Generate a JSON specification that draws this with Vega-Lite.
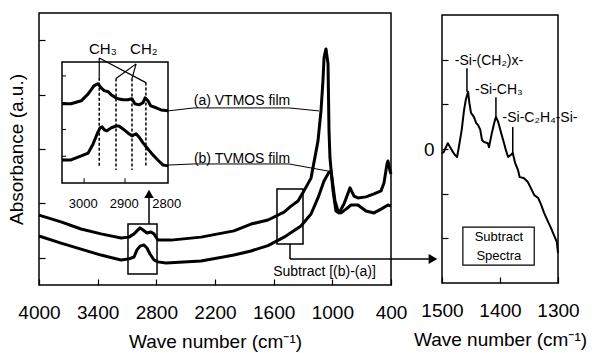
{
  "$schema": "https://vega.github.io/schema/vega-lite/v6.json",
  "padding": {"left": 6, "top": 12, "right": 0, "bottom": 0},
  "config": {
    "font": "Liberation Sans",
    "view": {"stroke": "black", "strokeWidth": 1.5},
    "axis": {"domain": false, "grid": false, "tickColor": "black", "tickSize": -6, "tickWidth": 1.2, "labelFontSize": 19, "titleFontSize": 19, "labelColor": "black", "titleColor": "black", "titleFontWeight": "normal", "labelFlush": false, "labelOverlap": false},
    "text": {"font": "Liberation Sans", "color": "black"}
  },
  "datasets": {
    "main": [
      {"s":"a","w":4000,"v":2.57},{"s":"a","w":3775,"v":2.32},{"s":"a","w":3570,"v":2.06},{"s":"a","w":3366,"v":1.88},{"s":"a","w":3161,"v":1.73},{"s":"a","w":3080,"v":1.76},{"s":"a","w":3028,"v":1.88},{"s":"a","w":2998,"v":1.99},{"s":"a","w":2967,"v":2.10},{"s":"a","w":2936,"v":2.02},{"s":"a","w":2896,"v":1.91},{"s":"a","w":2855,"v":1.95},{"s":"a","w":2824,"v":1.88},{"s":"a","w":2783,"v":1.65},{"s":"a","w":2650,"v":1.65},{"s":"a","w":2343,"v":1.76},{"s":"a","w":2006,"v":1.99},{"s":"a","w":1832,"v":2.24},{"s":"a","w":1658,"v":2.39},{"s":"a","w":1494,"v":2.68},{"s":"a","w":1423,"v":2.90},{"s":"a","w":1351,"v":3.09},{"s":"a","w":1290,"v":3.46},{"s":"a","w":1218,"v":3.93},{"s":"a","w":1147,"v":5.29},{"s":"a","w":1116,"v":6.40},{"s":"a","w":1096,"v":7.50},{"s":"a","w":1085,"v":8.35},{"s":"a","w":1065,"v":8.68},{"s":"a","w":1044,"v":8.13},{"s":"a","w":1039,"v":6.88},{"s":"a","w":1034,"v":5.66},{"s":"a","w":1024,"v":4.67},{"s":"a","w":993,"v":3.46},{"s":"a","w":963,"v":2.72},{"s":"a","w":932,"v":2.65},{"s":"a","w":881,"v":2.98},{"s":"a","w":819,"v":3.57},{"s":"a","w":778,"v":3.27},{"s":"a","w":738,"v":3.20},{"s":"a","w":656,"v":3.24},{"s":"a","w":574,"v":3.35},{"s":"a","w":502,"v":3.46},{"s":"a","w":472,"v":3.75},{"s":"a","w":441,"v":4.45},{"s":"a","w":431,"v":4.56},{"s":"a","w":410,"v":4.19},{"s":"a","w":400,"v":4.08},
      {"s":"b","w":4000,"v":1.80},{"s":"b","w":3775,"v":1.54},{"s":"b","w":3570,"v":1.32},{"s":"b","w":3366,"v":1.10},{"s":"b","w":3161,"v":0.92},{"s":"b","w":3080,"v":0.96},{"s":"b","w":3028,"v":1.03},{"s":"b","w":2998,"v":1.29},{"s":"b","w":2967,"v":1.43},{"s":"b","w":2926,"v":1.47},{"s":"b","w":2896,"v":1.36},{"s":"b","w":2865,"v":1.14},{"s":"b","w":2824,"v":0.92},{"s":"b","w":2783,"v":0.85},{"s":"b","w":2701,"v":0.81},{"s":"b","w":2343,"v":0.88},{"s":"b","w":2006,"v":1.10},{"s":"b","w":1832,"v":1.25},{"s":"b","w":1658,"v":1.45},{"s":"b","w":1494,"v":1.76},{"s":"b","w":1321,"v":2.17},{"s":"b","w":1218,"v":2.61},{"s":"b","w":1147,"v":3.20},{"s":"b","w":1085,"v":3.82},{"s":"b","w":1034,"v":4.15},{"s":"b","w":1014,"v":4.19},{"s":"b","w":993,"v":3.64},{"s":"b","w":973,"v":3.09},{"s":"b","w":942,"v":2.72},{"s":"b","w":911,"v":2.65},{"s":"b","w":860,"v":2.79},{"s":"b","w":809,"v":2.94},{"s":"b","w":738,"v":2.94},{"s":"b","w":656,"v":2.72},{"s":"b","w":574,"v":2.65},{"s":"b","w":502,"v":2.79},{"s":"b","w":431,"v":2.94},{"s":"b","w":400,"v":2.90}
    ],
    "mainLines": [
      {"x1":2681,"y1":6.40,"x2":2415,"y2":6.51},{"x1":2415,"y1":6.51,"x2":1443,"y2":6.51},{"x1":1443,"y1":6.51,"x2":1136,"y2":6.40},
      {"x1":2681,"y1":4.41,"x2":2415,"y2":4.45},{"x1":2415,"y1":4.45,"x2":1443,"y2":4.45},{"x1":1443,"y1":4.45,"x2":1044,"y2":4.19}
    ],
    "mainArrows": [
      {"x1":2875,"y1":2.24,"x2":2875,"y2":3.30},{"x1":1433,"y1":1.51,"x2":1433,"y2":0.96},{"x1":1433,"y1":0.96,"x2":-20,"y2":0.96}
    ],
    "mainBoxes": [
      {"x1":3090,"x2":2793,"y1":0.40,"y2":2.24},{"x1":1566,"x2":1300,"y1":1.51,"y2":3.53}
    ],
    "headUp": [{"w":2875,"v":3.35}],
    "headRight": [{"w":-29,"v":0.96}],
    "mainText": [
      {"w":1924,"v":6.76,"t":"(a) VTMOS film"},{"w":1924,"v":4.65,"t":"(b) TVMOS film"},{"w":1080,"v":0.48,"t":"Subtract [(b)-(a)]"}
    ],
    "inset": [
      {"s":"a","w":3054,"v":2.96},{"s":"a","w":3032,"v":2.96},{"s":"a","w":3007,"v":3.07},{"s":"a","w":2990,"v":3.33},{"s":"a","w":2976,"v":3.63},{"s":"a","w":2966,"v":3.71},{"s":"a","w":2959,"v":3.56},{"s":"a","w":2951,"v":3.45},{"s":"a","w":2941,"v":3.41},{"s":"a","w":2934,"v":3.30},{"s":"a","w":2922,"v":3.18},{"s":"a","w":2917,"v":3.15},{"s":"a","w":2905,"v":3.11},{"s":"a","w":2893,"v":3.11},{"s":"a","w":2883,"v":3.15},{"s":"a","w":2876,"v":2.96},{"s":"a","w":2866,"v":2.92},{"s":"a","w":2856,"v":3.00},{"s":"a","w":2851,"v":3.18},{"s":"a","w":2844,"v":3.07},{"s":"a","w":2837,"v":2.88},{"s":"a","w":2824,"v":2.81},{"s":"a","w":2812,"v":2.73},{"s":"a","w":2795,"v":2.70},
      {"s":"b","w":3054,"v":0.86},{"s":"b","w":3032,"v":0.86},{"s":"b","w":3007,"v":1.01},{"s":"b","w":2990,"v":1.12},{"s":"b","w":2978,"v":1.46},{"s":"b","w":2968,"v":1.84},{"s":"b","w":2961,"v":2.06},{"s":"b","w":2956,"v":2.10},{"s":"b","w":2951,"v":1.99},{"s":"b","w":2944,"v":1.95},{"s":"b","w":2934,"v":2.06},{"s":"b","w":2922,"v":2.13},{"s":"b","w":2915,"v":2.13},{"s":"b","w":2905,"v":2.02},{"s":"b","w":2893,"v":1.87},{"s":"b","w":2883,"v":1.76},{"s":"b","w":2873,"v":1.84},{"s":"b","w":2866,"v":1.72},{"s":"b","w":2856,"v":1.50},{"s":"b","w":2844,"v":1.27},{"s":"b","w":2832,"v":1.05},{"s":"b","w":2820,"v":0.86},{"s":"b","w":2807,"v":0.67},{"s":"b","w":2795,"v":0.64}
    ],
    "insetFrame": [{"x1":3054,"x2":2795,"y1":0,"y2":4.52}],
    "insetTicks": [
      {"x1":3054,"x2":3044,"y1":1,"y2":1},{"x1":3054,"x2":3044,"y1":2,"y2":2},{"x1":3054,"x2":3044,"y1":3,"y2":3},{"x1":3054,"x2":3044,"y1":4,"y2":4},
      {"x1":3000,"x2":3000,"y1":0,"y2":0.18},{"x1":2900,"x2":2900,"y1":0,"y2":0.18}
    ],
    "insetSolid": [
      {"x1":2963,"y1":3.93,"x2":2963,"y2":4.67},{"x1":2963,"y1":4.67,"x2":2849,"y2":3.75},{"x1":2873,"y1":4.45,"x2":2922,"y2":3.90},{"x1":2873,"y1":4.45,"x2":2883,"y2":3.90}
    ],
    "insetDashed": [
      {"x1":2963,"y1":3.93,"x2":2963,"y2":0.64},{"x1":2922,"y1":3.90,"x2":2922,"y2":0.49},{"x1":2883,"y1":3.90,"x2":2883,"y2":0.49},{"x1":2849,"y1":3.75,"x2":2849,"y2":0.64}
    ],
    "insetTickText": [
      {"w":3002,"v":-0.79,"t":"3000"},{"w":2902,"v":-0.79,"t":"2900"},{"w":2798,"v":-0.79,"t":"2800"}
    ],
    "insetLabels": [
      {"w":2954,"v":5.01,"t":"CH₃"},{"w":2854,"v":5.01,"t":"CH₂"}
    ],
    "sub": [
      {"w":1500,"v":-0.09},{"w":1497,"v":-0.07},{"w":1490,"v":0.13},{"w":1486,"v":0.04},{"w":1481,"v":-0.07},{"w":1478,"v":-0.13},{"w":1474,"v":-0.18},{"w":1471,"v":0.04},{"w":1466,"v":0.43},{"w":1462,"v":0.87},{"w":1459,"v":1.10},{"w":1455,"v":1.28},{"w":1453,"v":1.05},{"w":1450,"v":0.81},{"w":1445,"v":0.72},{"w":1441,"v":0.58},{"w":1438,"v":0.54},{"w":1434,"v":0.43},{"w":1431,"v":0.20},{"w":1428,"v":0.16},{"w":1421,"v":0.13},{"w":1419,"v":0.04},{"w":1414,"v":0.36},{"w":1410,"v":0.58},{"w":1407,"v":0.72},{"w":1403,"v":0.60},{"w":1398,"v":0.36},{"w":1393,"v":0.13},{"w":1390,"v":-0.02},{"w":1386,"v":-0.18},{"w":1381,"v":-0.13},{"w":1378,"v":-0.09},{"w":1374,"v":-0.31},{"w":1369,"v":-0.47},{"w":1366,"v":-0.63},{"w":1359,"v":-0.65},{"w":1352,"v":-0.74},{"w":1347,"v":-0.87},{"w":1341,"v":-1.03},{"w":1334,"v":-1.10},{"w":1329,"v":-1.25},{"w":1324,"v":-1.43},{"w":1317,"v":-1.63},{"w":1312,"v":-1.77},{"w":1307,"v":-1.93},{"w":1302,"v":-2.08},{"w":1300,"v":-2.33}
    ],
    "subLines": [
      {"x1":1457,"y1":1.81,"x2":1457,"y2":1.28},{"x1":1407,"y1":1.16,"x2":1407,"y2":0.72},{"x1":1378,"y1":0.49,"x2":1378,"y2":-0.09}
    ],
    "subText": [
      {"w":1419,"v":1.96,"t":"-Si-(CH₂)x-"},{"w":1402,"v":1.32,"t":"-Si-CH₃"},{"w":1331,"v":0.69,"t":"-Si-C₂H₄-Si-"}
    ],
    "subBox": [{"x1":1464,"x2":1341,"y1":-1.75,"y2":-2.60}],
    "subBoxText": [{"w":1402,"v":-1.97,"t":"Subtract"},{"w":1402,"v":-2.40,"t":"Spectra"}]
  },
  "hconcat": [
    {
      "width": 352,
      "height": 272,
      "layer": [
        {
          "layer": [
            {
              "data": {"name": "main"},
              "mark": {"type": "line", "color": "black", "strokeWidth": 3, "strokeJoin": "round"},
              "encoding": {
                "x": {"field": "w", "type": "quantitative", "scale": {"domain": [400, 4000], "reverse": true, "nice": false, "zero": false},
                      "axis": {"values": [4000, 3400, 2800, 2200, 1600, 1000, 400], "format": "d", "title": "Wave number (cm⁻¹)", "labelPadding": 24, "titlePadding": 10}},
                "y": {"field": "v", "type": "quantitative", "scale": {"domain": [0, 10], "nice": false, "zero": false},
                      "axis": {"values": [1, 2, 3, 4, 5, 6, 7, 8, 9], "labels": false, "title": "Absorbance (a.u.)", "titlePadding": 12}},
                "detail": {"field": "s", "type": "nominal"}
              }
            },
            {
              "data": {"name": "mainLines"},
              "mark": {"type": "rule", "color": "black", "strokeWidth": 1},
              "encoding": {
                "x": {"field": "x1", "type": "quantitative"}, "x2": {"field": "x2"},
                "y": {"field": "y1", "type": "quantitative"}, "y2": {"field": "y2"}
              }
            },
            {
              "data": {"name": "mainArrows"},
              "mark": {"type": "rule", "color": "black", "strokeWidth": 1.5},
              "encoding": {
                "x": {"field": "x1", "type": "quantitative"}, "x2": {"field": "x2"},
                "y": {"field": "y1", "type": "quantitative"}, "y2": {"field": "y2"}
              }
            },
            {
              "data": {"name": "mainBoxes"},
              "mark": {"type": "rect", "fill": null, "stroke": "black", "strokeWidth": 1.5},
              "encoding": {
                "x": {"field": "x1", "type": "quantitative"}, "x2": {"field": "x2"},
                "y": {"field": "y1", "type": "quantitative"}, "y2": {"field": "y2"}
              }
            },
            {
              "data": {"name": "headUp"},
              "mark": {"type": "point", "shape": "triangle-up", "filled": true, "color": "black", "size": 90, "opacity": 1},
              "encoding": {"x": {"field": "w", "type": "quantitative"}, "y": {"field": "v", "type": "quantitative"}}
            },
            {
              "data": {"name": "headRight"},
              "mark": {"type": "point", "shape": "triangle-right", "filled": true, "color": "black", "size": 100, "opacity": 1},
              "encoding": {"x": {"field": "w", "type": "quantitative"}, "y": {"field": "v", "type": "quantitative"}}
            },
            {
              "data": {"name": "mainText"},
              "mark": {"type": "text", "fontSize": 14, "baseline": "middle", "align": "center"},
              "encoding": {"x": {"field": "w", "type": "quantitative"}, "y": {"field": "v", "type": "quantitative"}, "text": {"field": "t"}}
            }
          ]
        },
        {
          "layer": [
            {
              "data": {"name": "inset"},
              "mark": {"type": "line", "color": "black", "strokeWidth": 3, "strokeJoin": "round"},
              "encoding": {
                "x": {"field": "w", "type": "quantitative", "scale": {"domain": [2795, 3054], "range": [129, 23], "nice": false, "zero": false}, "axis": null},
                "y": {"field": "v", "type": "quantitative", "scale": {"domain": [0, 4.52], "range": [170, 49], "nice": false, "zero": false}, "axis": null},
                "detail": {"field": "s", "type": "nominal"}
              }
            },
            {
              "data": {"name": "insetFrame"},
              "mark": {"type": "rect", "fill": null, "stroke": "black", "strokeWidth": 1.5},
              "encoding": {
                "x": {"field": "x1", "type": "quantitative", "axis": null}, "x2": {"field": "x2"},
                "y": {"field": "y1", "type": "quantitative", "axis": null}, "y2": {"field": "y2"}
              }
            },
            {
              "data": {"name": "insetTicks"},
              "mark": {"type": "rule", "color": "black", "strokeWidth": 1},
              "encoding": {
                "x": {"field": "x1", "type": "quantitative", "axis": null}, "x2": {"field": "x2"},
                "y": {"field": "y1", "type": "quantitative", "axis": null}, "y2": {"field": "y2"}
              }
            },
            {
              "data": {"name": "insetSolid"},
              "mark": {"type": "rule", "color": "black", "strokeWidth": 1.2},
              "encoding": {
                "x": {"field": "x1", "type": "quantitative", "axis": null}, "x2": {"field": "x2"},
                "y": {"field": "y1", "type": "quantitative", "axis": null}, "y2": {"field": "y2"}
              }
            },
            {
              "data": {"name": "insetDashed"},
              "mark": {"type": "rule", "color": "black", "strokeWidth": 1.5, "strokeDash": [3, 2]},
              "encoding": {
                "x": {"field": "x1", "type": "quantitative", "axis": null}, "x2": {"field": "x2"},
                "y": {"field": "y1", "type": "quantitative", "axis": null}, "y2": {"field": "y2"}
              }
            },
            {
              "data": {"name": "insetTickText"},
              "mark": {"type": "text", "fontSize": 13, "baseline": "middle", "align": "center"},
              "encoding": {"x": {"field": "w", "type": "quantitative", "axis": null}, "y": {"field": "v", "type": "quantitative", "axis": null}, "text": {"field": "t"}}
            },
            {
              "data": {"name": "insetLabels"},
              "mark": {"type": "text", "fontSize": 15, "baseline": "middle", "align": "center"},
              "encoding": {"x": {"field": "w", "type": "quantitative", "axis": null}, "y": {"field": "v", "type": "quantitative", "axis": null}, "text": {"field": "t"}}
            }
          ]
        }
      ],
      "resolve": {"scale": {"x": "independent", "y": "independent"}}
    },
    {
      "width": 116,
      "height": 268,
      "layer": [
        {
          "data": {"name": "sub"},
          "mark": {"type": "line", "color": "black", "strokeWidth": 2, "strokeJoin": "round"},
          "encoding": {
            "x": {"field": "w", "type": "quantitative", "scale": {"domain": [1300, 1500], "reverse": true, "nice": false, "zero": false},
                  "axis": {"values": [1500, 1400, 1300], "format": "d", "title": "Wave number (cm⁻¹)", "labelPadding": 24, "titlePadding": 10}},
            "y": {"field": "v", "type": "quantitative", "scale": {"domain": [-3, 3], "nice": false, "zero": false},
                  "axis": {"values": [-2, -1, 0, 1, 2], "labelExpr": "datum.value == 0 ? '0' : ''", "title": null, "labelPadding": 14}}
          }
        },
        {
          "data": {"name": "subLines"},
          "mark": {"type": "rule", "color": "black", "strokeWidth": 1.5},
          "encoding": {
            "x": {"field": "x1", "type": "quantitative"}, "x2": {"field": "x2"},
            "y": {"field": "y1", "type": "quantitative"}, "y2": {"field": "y2"}
          }
        },
        {
          "data": {"name": "subText"},
          "mark": {"type": "text", "fontSize": 14, "baseline": "middle", "align": "center"},
          "encoding": {"x": {"field": "w", "type": "quantitative"}, "y": {"field": "v", "type": "quantitative"}, "text": {"field": "t"}}
        },
        {
          "data": {"name": "subBox"},
          "mark": {"type": "rect", "fill": null, "stroke": "black", "strokeWidth": 1.2},
          "encoding": {
            "x": {"field": "x1", "type": "quantitative"}, "x2": {"field": "x2"},
            "y": {"field": "y1", "type": "quantitative"}, "y2": {"field": "y2"}
          }
        },
        {
          "data": {"name": "subBoxText"},
          "mark": {"type": "text", "fontSize": 13, "baseline": "middle", "align": "center"},
          "encoding": {"x": {"field": "w", "type": "quantitative"}, "y": {"field": "v", "type": "quantitative"}, "text": {"field": "t"}}
        }
      ]
    }
  ],
  "spacing": 51,
  "bounds": "flush",
  "center": true
}
